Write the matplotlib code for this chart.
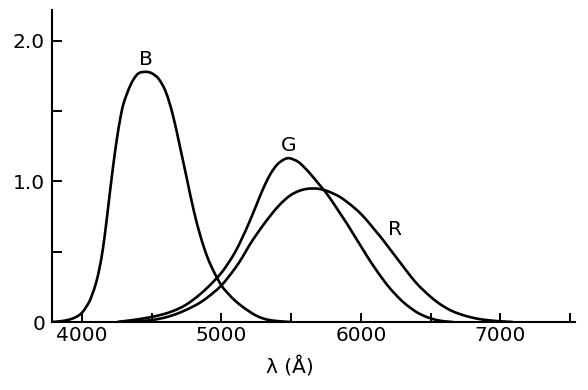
import matplotlib
matplotlib.use("Agg")
import matplotlib.pyplot as plt
from matplotlib.path import Path
from matplotlib.patches import PathPatch

# curves (wavelength in Angstrom, relative response)
b_wl = [3785, 3850, 3900, 3950, 4000, 4050, 4075, 4100, 4125, 4150, 4175, 4200,
        4225, 4250, 4275, 4300, 4350, 4400, 4455, 4500, 4550, 4600, 4650, 4700,
        4750, 4800, 4850, 4900, 4950, 5000, 5050, 5100, 5150, 5200, 5250, 5300,
        5350, 5420, 5500]
b_val = [0.0, 0.006, 0.015, 0.032, 0.066, 0.14, 0.20, 0.275, 0.38, 0.52, 0.71, 0.92,
         1.12, 1.30, 1.45, 1.56, 1.69, 1.765, 1.78, 1.77, 1.73, 1.64, 1.48, 1.26,
         1.03, 0.80, 0.61, 0.46, 0.35, 0.26, 0.20, 0.15, 0.11, 0.075, 0.045, 0.025,
         0.013, 0.005, 0.0]

g_wl = [4256, 4300, 4350, 4400, 4450, 4500, 4550, 4600, 4650, 4700, 4750, 4800,
        4850, 4900, 4950, 5000, 5050, 5100, 5150, 5200, 5250, 5300, 5350, 5400,
        5450, 5490, 5550, 5600, 5650, 5700, 5750, 5800, 5850, 5900, 5950, 6000,
        6050, 6100, 6150, 6200, 6250, 6300, 6350, 6400, 6450, 6500, 6550, 6600,
        6660]
g_val = [0.0, 0.006, 0.012, 0.019, 0.027, 0.036, 0.047, 0.06, 0.077, 0.098, 0.125, 0.16,
         0.20, 0.245, 0.295, 0.35, 0.42, 0.50, 0.60, 0.71, 0.83, 0.95, 1.05, 1.12,
         1.157, 1.165, 1.14, 1.095, 1.04, 0.98, 0.92, 0.85, 0.775, 0.70, 0.62, 0.54,
         0.46, 0.385, 0.315, 0.25, 0.195, 0.145, 0.105, 0.07, 0.045, 0.026, 0.013, 0.005,
         0.0]

r_wl = [4256, 4300, 4400, 4500, 4600, 4700, 4800, 4850, 4900, 4950, 5000, 5050,
        5100, 5150, 5200, 5250, 5300, 5350, 5400, 5450, 5500, 5550, 5600, 5650,
        5700, 5750, 5800, 5850, 5900, 5950, 6000, 6050, 6100, 6150, 6200, 6250,
        6300, 6350, 6400, 6450, 6500, 6550, 6600, 6650, 6700, 6750, 6800, 6850,
        6900, 6950, 7000, 7090]
r_val = [0.0, 0.002, 0.006, 0.014, 0.033, 0.066, 0.112, 0.14, 0.175, 0.215, 0.26, 0.32,
         0.385, 0.46, 0.545, 0.62, 0.69, 0.755, 0.815, 0.865, 0.905, 0.93, 0.945, 0.95,
         0.947, 0.935, 0.915, 0.89, 0.855, 0.815, 0.77, 0.715, 0.655, 0.595, 0.53, 0.465,
         0.40, 0.335, 0.275, 0.225, 0.18, 0.14, 0.107, 0.08, 0.06, 0.044, 0.031, 0.021,
         0.014, 0.009, 0.005, 0.0]

x_ticks = [4000, 4500, 5000, 5500, 6000, 6500, 7000, 7500]
x_labels = ["4000", "", "5000", "", "6000", "", "7000", ""]
y_ticks = [0, 0.5, 1.0, 1.5, 2.0]
y_labels = ["0", "", "1.0", "", "2.0"]


def smooth_path(xs, ys):
    # smooth line through the read points (Catmull-Rom drawn as bezier segments)
    pts = list(zip(xs, ys))
    verts = [pts[0]]
    codes = [Path.MOVETO]
    n = len(pts)
    for i in range(n - 1):
        p0 = pts[i - 1] if i > 0 else pts[i]
        p1 = pts[i]
        p2 = pts[i + 1]
        p3 = pts[i + 2] if i + 2 < n else pts[i + 1]
        c1 = (p1[0] + (p2[0] - p0[0]) / 6, p1[1] + (p2[1] - p0[1]) / 6)
        c2 = (p2[0] - (p3[0] - p1[0]) / 6, p2[1] - (p3[1] - p1[1]) / 6)
        verts += [c1, c2, p2]
        codes += [Path.CURVE4] * 3
    return Path(verts, codes)


plt.rcParams["font.family"] = "DejaVu Sans"

fig = plt.figure(figsize=(5.88, 3.90), dpi=100)
ax = fig.add_axes([52 / 588, 68 / 390, 523 / 588, 312 / 390])

for wl, val in [(b_wl, b_val), (g_wl, g_val), (r_wl, r_val)]:
    ax.add_patch(PathPatch(smooth_path(wl, val), facecolor="none",
                           edgecolor="black", linewidth=1.9,
                           joinstyle="round", capstyle="butt"))

ax.text(4459, 1.865, "B", fontsize=14.5, ha="center", va="center")
ax.text(5484, 1.254, "G", fontsize=14.5, ha="center", va="center")
ax.text(6244, 0.658, "R", fontsize=14.5, ha="center", va="center")

ax.set_xlim(3785, 7536)
ax.set_ylim(0, 2.22)

ax.set_xticks(x_ticks)
ax.set_xticklabels(x_labels)
ax.set_yticks(y_ticks)
ax.set_yticklabels(y_labels)

ax.tick_params(axis="x", direction="in", length=6.5, width=1.4,
               labelsize=14.5, pad=3)
ax.tick_params(axis="y", direction="in", length=7.2, width=1.4,
               labelsize=14.5, pad=5)

for side in ["top", "right"]:
    ax.spines[side].set_visible(False)
for side in ["left", "bottom"]:
    ax.spines[side].set_linewidth(1.5)

ax.set_xlabel("λ (Å)", fontsize=14.5)
ax.xaxis.set_label_coords(0.455, -0.112)

fig.savefig("out.png", dpi=100)
